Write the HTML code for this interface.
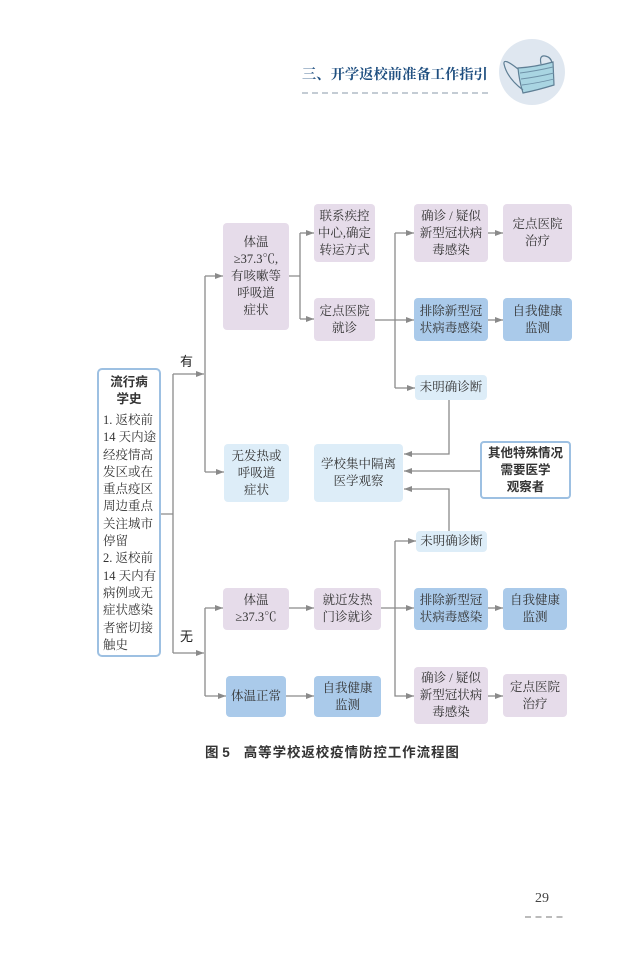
<!DOCTYPE html>
<html><head><meta charset="utf-8">
<style>
*{margin:0;padding:0;box-sizing:border-box}
body{width:639px;height:959px;background:#fff;position:relative;overflow:hidden;font-family:"Liberation Serif","Noto Serif CJK SC",serif;color:#333}
.b{position:absolute;display:flex;align-items:center;justify-content:center;text-align:center;font-size:12.5px;line-height:17px;border-radius:4px;white-space:nowrap}
.p{background:#e6dcea}
.l{background:#ddedf8}
.m{background:#aacaea}
.abs{position:absolute;white-space:nowrap}
</style></head><body>
<svg width="639" height="959" style="position:absolute;left:0;top:0">
<defs>
<marker id="a" markerWidth="9" markerHeight="7" refX="8" refY="3.5" orient="auto" markerUnits="userSpaceOnUse">
<path d="M0,0.5 L8,3.5 L0,6.5 Z" fill="#8a8a8a"/></marker>
</defs>
<!-- header -->
<circle cx="532" cy="72" r="33" fill="#dfe7f0"/>
<path d="M518,68 Q535,67 553,62 L554,85 Q538,90 523,93 Q519,80 518,68 Z" fill="#a9d5e2" stroke="#5f7f95" stroke-width="1.2"/>
<path d="M520,73 Q536,71 553,67 M521,79 Q537,77 554,73 M522,85 Q538,83 554,79" fill="none" stroke="#6f92a8" stroke-width="0.9"/>
<path d="M518,69 Q503,57 504,64 Q507,78 523,90" fill="none" stroke="#5f7f95" stroke-width="1.2"/>
<path d="M541,64 Q539,55 545,56 Q551,57 552,63" fill="none" stroke="#5f7f95" stroke-width="1.2"/>
<line x1="302" y1="93" x2="490" y2="93" stroke="#8a9aa8" stroke-width="1" stroke-dasharray="6,4"/>
<line x1="525" y1="917" x2="565" y2="917" stroke="#777" stroke-width="1" stroke-dasharray="6,4.5"/>
<g fill="none" stroke="#8a8a8a" stroke-width="1.3">
<path d="M161,514 H173 M173,374 V653"/>
<path d="M173,374 H204" marker-end="url(#a)"/>
<path d="M173,653 H204" marker-end="url(#a)"/>
<path d="M205,276 V472"/>
<path d="M205,276 H223" marker-end="url(#a)"/>
<path d="M205,472 H224" marker-end="url(#a)"/>
<path d="M205,608 V696"/>
<path d="M205,608 H223" marker-end="url(#a)"/>
<path d="M205,696 H226" marker-end="url(#a)"/>
<path d="M289,276 H300 M300,233 V319"/>
<path d="M300,233 H314" marker-end="url(#a)"/>
<path d="M300,319 H314" marker-end="url(#a)"/>
<path d="M375,320 H414" marker-end="url(#a)"/>
<path d="M395,233 V388"/>
<path d="M395,233 H414" marker-end="url(#a)"/>
<path d="M395,388 H415" marker-end="url(#a)"/>
<path d="M488,233 H503" marker-end="url(#a)"/>
<path d="M488,320 H503" marker-end="url(#a)"/>
<path d="M449,400 V454 H404" marker-end="url(#a)"/>
<path d="M480,471 H404" marker-end="url(#a)"/>
<path d="M449,531 V489 H404" marker-end="url(#a)"/>
<path d="M395,541 H416" marker-end="url(#a)"/>
<path d="M395,541 V696 H414" marker-end="url(#a)"/>
<path d="M289,608 H314" marker-end="url(#a)"/>
<path d="M381,608 H414" marker-end="url(#a)"/>
<path d="M488,608 H503" marker-end="url(#a)"/>
<path d="M488,696 H503" marker-end="url(#a)"/>
<path d="M286,696 H314" marker-end="url(#a)"/>
</g>
</svg>

<div class="abs" style="left:302px;top:64px;font-size:14.3px;font-weight:bold;color:#1f4f80;font-family:'Liberation Serif','Noto Serif CJK SC',serif;line-height:22px">三、开学返校前准备工作指引</div>

<!-- epidemiology box -->
<div class="abs" style="left:97px;top:368px;width:64px;height:289px;border:2px solid #9dc0e2;border-radius:5px;background:#fff;white-space:normal">
<div style="padding-top:4px;text-align:center;font-family:'Liberation Sans','Noto Sans CJK SC',sans-serif;font-weight:bold;font-size:12.5px;line-height:17px;color:#333">流行病<br>学史</div>
<div style="padding:4px 0 0 4px;font-size:12.5px;line-height:17.3px;white-space:nowrap;color:#333">1. 返校前<br>14 天内途<br>经疫情高<br>发区或在<br>重点疫区<br>周边重点<br>关注城市<br>停留<br>2. 返校前<br>14 天内有<br>病例或无<br>症状感染<br>者密切接<br>触史</div>
</div>

<div class="abs" style="left:180px;top:353px;font-size:13px;font-family:'Liberation Sans','Noto Sans CJK SC',sans-serif;color:#222;line-height:18px">有</div>
<div class="abs" style="left:180px;top:628px;font-size:13px;font-family:'Liberation Sans','Noto Sans CJK SC',sans-serif;color:#222;line-height:18px">无</div>

<div class="b p" style="left:223px;top:223px;width:66px;height:107px">体温<br>≥37.3℃,<br>有咳嗽等<br>呼吸道<br>症状</div>
<div class="b p" style="left:314px;top:204px;width:61px;height:58px">联系疾控<br>中心,确定<br>转运方式</div>
<div class="b p" style="left:314px;top:298px;width:61px;height:43px">定点医院<br>就诊</div>
<div class="b p" style="left:414px;top:204px;width:74px;height:58px">确诊 / 疑似<br>新型冠状病<br>毒感染</div>
<div class="b p" style="left:503px;top:204px;width:69px;height:58px">定点医院<br>治疗</div>
<div class="b m" style="left:414px;top:298px;width:74px;height:43px">排除新型冠<br>状病毒感染</div>
<div class="b m" style="left:503px;top:298px;width:69px;height:43px">自我健康<br>监测</div>
<div class="b l" style="left:415px;top:375px;width:72px;height:25px">未明确诊断</div>
<div class="b l" style="left:224px;top:444px;width:65px;height:58px">无发热或<br>呼吸道<br>症状</div>
<div class="b l" style="left:314px;top:444px;width:89px;height:58px">学校集中隔离<br>医学观察</div>
<div class="b" style="left:480px;top:441px;width:91px;height:58px;background:#fff;border:2px solid #9dc0e2;font-family:'Liberation Sans','Noto Sans CJK SC',sans-serif;font-weight:bold;color:#333;font-size:12.5px">其他特殊情况<br>需要医学<br>观察者</div>
<div class="b l" style="left:416px;top:531px;width:71px;height:21px">未明确诊断</div>
<div class="b p" style="left:223px;top:588px;width:66px;height:42px">体温<br>≥37.3℃</div>
<div class="b p" style="left:314px;top:588px;width:67px;height:42px">就近发热<br>门诊就诊</div>
<div class="b m" style="left:414px;top:588px;width:74px;height:42px">排除新型冠<br>状病毒感染</div>
<div class="b m" style="left:503px;top:588px;width:64px;height:42px">自我健康<br>监测</div>
<div class="b m" style="left:226px;top:676px;width:60px;height:41px">体温正常</div>
<div class="b m" style="left:314px;top:676px;width:67px;height:41px">自我健康<br>监测</div>
<div class="b p" style="left:414px;top:667px;width:74px;height:57px">确诊 / 疑似<br>新型冠状病<br>毒感染</div>
<div class="b p" style="left:503px;top:674px;width:64px;height:43px">定点医院<br>治疗</div>

<div class="abs" style="left:205px;top:744px;font-size:13.5px;line-height:18px;font-weight:bold;font-family:'Liberation Sans','Noto Sans CJK SC',sans-serif;color:#333">图 5<span style="display:inline-block;width:14px"></span><span style="letter-spacing:0.9px">高等学校返校疫情防控工作流程图</span></div>

<div class="abs" style="left:535px;top:890px;font-size:14px;line-height:18px;color:#444">29</div>
</body></html>
